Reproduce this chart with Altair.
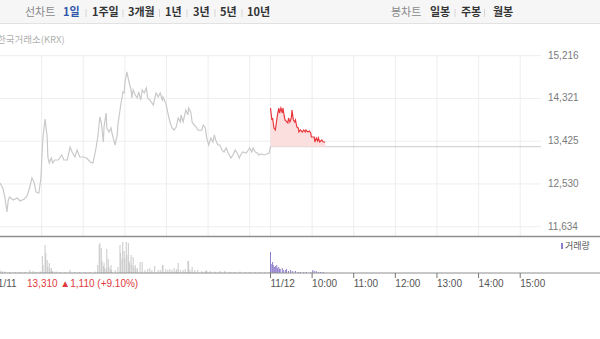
import altair as alt
import pandas as pd

FONT = "Liberation Sans, Noto Sans CJK KR, DejaVu Sans"
KFONT = "Noto Sans CJK KR, Liberation Sans"

# ---------------- data ----------------
# 11/11 session: (minutes after 09:00 open, price)
day1_price = [
    (0, 12549), (4, 12444), (7, 12256), (10, 11942), (12, 12193), (14, 12256), (19, 12193),
    (25, 12235), (29, 12172), (35, 12214), (39, 12277), (43, 12465), (46, 12654), (49, 12570),
    (52, 12361), (56, 12340), (59, 12654), (61, 13283), (62, 13513), (65, 13890), (68, 13513),
    (69, 13094), (71, 12968), (74, 13073), (76, 12968), (79, 13031), (84, 13031), (89, 13136),
    (92, 13031), (97, 13031), (101, 13303), (104, 13199), (108, 13094), (111, 13241), (115, 13094),
    (120, 13094), (125, 13073), (130, 12989), (134, 12968), (138, 13241), (141, 13513), (144, 13932),
    (146, 13827), (149, 13408), (150, 13722), (153, 14016), (154, 13702), (157, 13618), (160, 13702),
    (161, 13618), (164, 13450), (166, 13345), (169, 13555), (170, 13764), (173, 14079), (176, 14351),
    (177, 14456), (179, 14435), (180, 14644), (183, 14875), (186, 14665), (189, 14498), (190, 14330),
    (192, 14498), (195, 14393), (198, 14330), (200, 14456), (203, 14288), (205, 14498), (208, 14435),
    (211, 14539), (213, 14330), (216, 14288), (221, 14183), (225, 14435), (228, 14351), (231, 14435),
    (234, 14288), (235, 14351), (238, 14246), (239, 14225), (242, 14016), (245, 13827), (248, 13702),
    (251, 13660), (254, 13722), (257, 13911), (260, 13827), (261, 13974), (264, 13827), (267, 14016),
    (268, 14079), (271, 13974), (272, 14120), (275, 14037), (277, 13827), (280, 13764), (283, 13722),
    (285, 13660), (288, 13650), (291, 13660), (293, 13764), (296, 13702), (298, 13492), (301, 13345),
    (304, 13492), (307, 13408), (309, 13555), (311, 13450), (314, 13345), (317, 13345), (320, 13241),
    (323, 13199), (326, 13283), (329, 13178), (333, 13073), (336, 13136), (339, 13241), (342, 13178),
    (345, 13073), (347, 13136), (350, 13199), (355, 13178), (358, 13241), (360, 13283), (363, 13199),
    (365, 13283), (368, 13199), (371, 13178), (373, 13136), (376, 13157), (381, 13136), (385, 13157),
    (388, 13178), (390, 13310),
]

# 11/12 session so far: (minutes after 09:00 open, price)
day2_price = [
    (0, 14120), (2, 13869), (3, 13911), (5, 13702), (7, 13660), (8, 13764), (10, 13974), (12, 14120),
    (13, 14016), (15, 14120), (17, 14016), (18, 14120), (20, 13932), (21, 13869), (25, 13806),
    (26, 13911), (28, 13827), (30, 13911), (31, 14079), (33, 13869), (35, 13827), (36, 13869),
    (38, 13722), (40, 13702), (41, 13618), (43, 13660), (46, 13618), (48, 13660), (50, 13618),
    (51, 13660), (54, 13618), (56, 13639), (58, 13597), (59, 13513), (63, 13513), (64, 13408),
    (66, 13492), (68, 13429), (69, 13492), (71, 13408), (74, 13450), (76, 13408), (77, 13408),
    (79, 13408),
]

prev_close = 13310
change = 1110
change_pct = 9.10

# volume, thousand shares: (minutes after open, volume)
day1_volume = [
    (0, 3), (3, 2), (7, 1.5), (14, 1), (22, 1), (29, 1), (36, 1), (43, 3), (48, 2), (52, 1), (58, 1.5),
    (61, 17), (62, 8), (65, 28), (66, 20), (68, 13), (69, 6), (71, 10), (72, 4), (74, 5), (76, 2),
    (81, 1.5), (87, 1), (94, 1), (101, 3), (108, 1), (115, 1), (123, 1), (130, 1), (137, 1.5),
    (141, 8), (143, 28), (144, 30), (146, 25), (147, 12), (149, 7), (150, 10), (151, 5), (153, 4),
    (154, 24), (156, 14), (157, 6), (159, 4), (160, 8), (161, 3), (166, 3), (170, 6), (173, 28),
    (174, 20), (176, 14), (177, 31), (179, 22), (180, 15), (182, 31), (183, 18), (185, 30), (186, 12),
    (187, 10), (189, 18), (190, 8), (192, 16), (193, 6), (195, 8), (196, 4), (198, 5), (202, 11),
    (205, 11), (209, 3), (213, 4), (216, 5), (219, 3), (223, 7), (228, 3), (231, 3), (234, 8),
    (235, 8), (239, 4), (242, 3), (245, 4), (248, 3), (251, 5), (254, 3), (255, 4), (257, 10),
    (260, 3), (264, 3), (267, 4), (271, 12), (272, 12), (274, 3), (277, 6), (281, 3), (285, 3),
    (291, 2), (296, 2), (298, 3), (303, 2), (310, 1.5), (317, 2), (324, 2), (332, 1), (339, 1),
    (346, 1.5), (353, 1), (360, 1), (368, 1), (375, 1), (382, 1), (388, 1),
]
day2_volume = [
    (0, 21), (1, 9), (3, 11), (4, 8), (6, 6), (7, 7), (9, 8), (10, 5), (12, 6), (13, 4), (14, 4),
    (17, 5), (19, 3), (22, 3), (23, 4), (26, 2), (29, 3), (32, 2), (36, 2), (40, 1), (43, 1),
    (48, 1), (52, 1), (58, 1), (61, 3), (63, 2), (66, 2), (69, 1), (72, 1), (76, 1),
]

price_ticks = [11634, 12530, 13425, 14321, 15216]
grid_minutes = [60, 120, 180, 240, 300, 360, 390, 450, 510, 570, 630, 690, 750]
axis_minutes = [390, 450, 510, 570, 630, 690, 750]
axis_labels = ["11/12", "10:00", "11:00", "12:00", "13:00", "14:00", "15:00"]

SESSION = 390  # minutes per session; 11/12 starts right after 11/11 close

# ---------------- frames ----------------
d1 = pd.DataFrame(day1_price, columns=["m", "p"])
d1["t"] = d1["m"]
d2 = pd.DataFrame(day2_price, columns=["m", "p"])
d2["t"] = d2["m"] + SESSION
v1 = pd.DataFrame(day1_volume, columns=["m", "v"])
v1["t"] = v1["m"]
v2 = pd.DataFrame(day2_volume, columns=["m", "v"])
v2["t"] = v2["m"] + SESSION
grid_h = pd.DataFrame({"p": price_ticks, "t0": 0, "t1": 2 * SESSION})
grid_v = pd.DataFrame({"t": grid_minutes})
close_df = pd.DataFrame({"t0": [SESSION], "t1": [2 * SESSION], "p": [prev_close]})
axis_df = pd.DataFrame({"t": axis_minutes, "label": axis_labels})
one = pd.DataFrame({"a": [0]})

X = alt.Scale(domain=[0, 2 * SESSION], range=[0, 541], nice=False, zero=False)
YP = alt.Scale(domain=[11439, 15216], range=[236, 55.7], nice=False, zero=False)
YV = alt.Scale(domain=[0, 33], range=[273, 240], nice=False, zero=False)

xq = lambda f: alt.X(f"{f}:Q", scale=X, axis=None)

layers = []

# header bar
layers.append(alt.Chart(one).mark_rect(fill="#f6f6f7").encode(
    x=alt.value(0), x2=alt.value(600), y=alt.value(0), y2=alt.value(23)))
layers.append(alt.Chart(one).mark_rule(color="#e2e2e2").encode(
    x=alt.value(0), x2=alt.value(600), y=alt.value(23.5)))


def htext(txt, x, color="#333333", weight="bold"):
    return alt.Chart(one).mark_text(
        text=txt, align="left", baseline="middle", font=KFONT, fontSize=11,
        fontWeight=weight, color=color).encode(x=alt.value(x), y=alt.value(12.5))


for txt, x, c, w in [
    ("선차트", 25, "#8a8a8a", "normal"), ("1일", 63, "#2f55a8", "bold"),
    ("1주일", 92, "#333333", "bold"), ("3개월", 128, "#333333", "bold"),
    ("1년", 165, "#333333", "bold"), ("3년", 193, "#333333", "bold"),
    ("5년", 220, "#333333", "bold"), ("10년", 247, "#333333", "bold"),
    ("봉차트", 391, "#8a8a8a", "normal"), ("일봉", 430, "#333333", "bold"),
    ("주봉", 461, "#333333", "bold"), ("월봉", 493, "#333333", "bold"),
]:
    layers.append(htext(txt, x, c, w))
for sx in [86, 123, 159.5, 187, 215, 242, 455, 484.5]:
    layers.append(alt.Chart(one).mark_rule(color="#d6d6d6").encode(
        x=alt.value(sx), y=alt.value(9), y2=alt.value(17)))

# source label
layers.append(alt.Chart(one).mark_text(
    text="한국거래소(KRX)", align="left", baseline="middle", font=KFONT, fontSize=9.5,
    color="#b0b0b0").encode(x=alt.value(-3), y=alt.value(40)))

# grid
layers.append(alt.Chart(grid_v).mark_rule(color="#eeeeee").encode(
    x=xq("t"), y=alt.value(55.7), y2=alt.value(236)))
layers.append(alt.Chart(grid_h).mark_rule(color="#eeeeee").encode(
    x=xq("t0"), x2="t1:Q", y=alt.Y("p:Q", scale=YP, axis=None)))

# price labels
layers.append(alt.Chart(grid_h).mark_text(
    align="left", baseline="middle", font=FONT, fontSize=10, color="#7a7a7a").encode(
    x=alt.value(548), y=alt.Y("p:Q", scale=YP, axis=None),
    text=alt.Text("p:Q", format=",")))

# previous close line
layers.append(alt.Chart(close_df).mark_rule(color="#9a9a9a", strokeDash=[1, 1]).encode(
    x=xq("t0"), x2="t1:Q", y=alt.Y("p:Q", scale=YP, axis=None)))

# 11/11 price
layers.append(alt.Chart(d1).mark_line(color="#c9c9c9", strokeWidth=1.2).encode(
    x=xq("t"), y=alt.Y("p:Q", scale=YP, axis=None)))

# 11/12 price: area + line
layers.append(alt.Chart(d2).mark_area(color="#fbdcdc", opacity=0.9).encode(
    x=xq("t"), y=alt.Y("p:Q", scale=YP, axis=None), y2=alt.datum(prev_close)))
layers.append(alt.Chart(d2).mark_line(color="#e8393e", strokeWidth=1.2).encode(
    x=xq("t"), y=alt.Y("p:Q", scale=YP, axis=None)))

# panel separator
layers.append(alt.Chart(one).mark_rule(color="#8e8e8e", strokeWidth=1.5).encode(
    x=alt.value(0), x2=alt.value(600), y=alt.value(236.5)))

# volume
layers.append(alt.Chart(v1).mark_rule(color="#c8c8c8", strokeWidth=1).encode(
    x=xq("t"), y=alt.Y("v:Q", scale=YV, axis=None), y2=alt.datum(0)))
layers.append(alt.Chart(v2).mark_rule(color="#8f7fcb", strokeWidth=1).encode(
    x=xq("t"), y=alt.Y("v:Q", scale=YV, axis=None), y2=alt.datum(0)))
layers.append(alt.Chart(one).mark_rule(color="#8e8e8e", strokeWidth=1).encode(
    x=alt.value(0), x2=alt.value(600), y=alt.value(273)))

# volume legend
layers.append(alt.Chart(one).mark_rect(fill="#8f7fcb").encode(
    x=alt.value(561), x2=alt.value(563), y=alt.value(243), y2=alt.value(249)))
layers.append(alt.Chart(one).mark_text(
    text="거래량", align="left", baseline="middle", font=KFONT, fontSize=9,
    color="#555555").encode(x=alt.value(565), y=alt.value(246)))

# time axis
layers.append(alt.Chart(axis_df).mark_rule(color="#777777").encode(
    x=xq("t"), y=alt.value(273), y2=alt.value(278)))
layers.append(alt.Chart(axis_df).mark_text(
    align="left", baseline="middle", font=FONT, fontSize=10, color="#555555").encode(
    x=xq("t"), y=alt.value(283.5), text="label:N"))
layers.append(alt.Chart(one).mark_text(
    text="11/11", align="left", baseline="middle", font=FONT, fontSize=10,
    color="#555555").encode(x=alt.value(-7), y=alt.value(283.5)))
layers.append(alt.Chart(one).mark_text(
    text=f"{prev_close:,} ▲{change:,} (+{change_pct:.2f}%)", align="left",
    baseline="middle", font=FONT, fontSize=10, color="#e03a3e").encode(
    x=alt.value(27), y=alt.value(283.5)))

chart = alt.layer(*layers).resolve_scale(y="independent").properties(
    width=600, height=339, autosize=alt.AutoSizeParams(type="none"), padding=0,
    background="white",
).configure_view(stroke=None)

chart.save("out.html", embed_options={"renderer": "svg", "actions": False})
